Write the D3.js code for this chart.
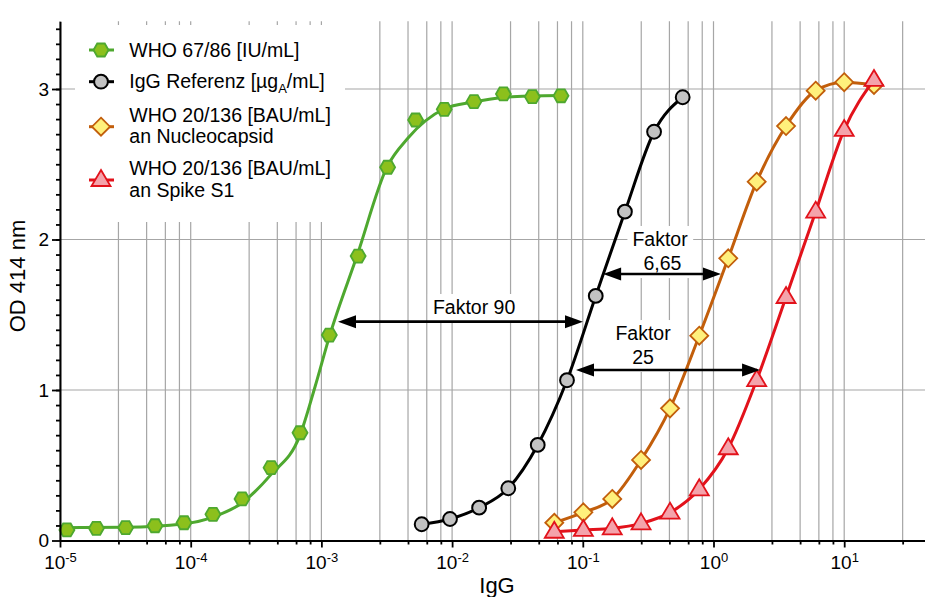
<!DOCTYPE html>
<html>
<head>
<meta charset="utf-8">
<script src="https://cdn.jsdelivr.net/npm/d3@7"></script>
<style>
  body { margin: 0; background: #fff; }
  text { font-family: "Liberation Sans", Arial, sans-serif; fill: #000; }
</style>
</head>
<body>
<div id="chart"></div>
<script>
// WHO 67/86 [IU/mL]
const whoX = [1.13e-5, 1.90e-5, 3.18e-5, 5.33e-5, 8.89e-5, 1.48e-4, 2.47e-4, 4.12e-4, 6.86e-4,
  1.15e-3, 1.91e-3, 3.21e-3, 5.26e-3, 8.71e-3, 1.47e-2, 2.47e-2, 4.11e-2, 6.81e-2];
const whoY = [0.070, 0.081, 0.085, 0.098, 0.118, 0.174, 0.276, 0.484, 0.716,
  1.365, 1.89, 2.48, 2.794, 2.865, 2.916, 2.967, 2.949, 2.955];
// fitted curve of WHO 67/86
const whoFitX = [1e-5, 3.14e-5, 8.73e-5, 1.46e-4, 2.45e-4, 4.09e-4, 6.86e-4, 8.93e-4, 1.16e-3,
  1.87e-3, 3.18e-3, 4.6e-3, 8.67e-3, 1.47e-2, 2.45e-2, 4.08e-2, 6.81e-2];
const whoFitY = [0.085, 0.088, 0.110, 0.154, 0.248, 0.436, 0.70, 1.02, 1.365,
  1.89, 2.482, 2.674, 2.867, 2.914, 2.944, 2.954, 2.957];

// IgG Referenz
const refX = [5.85e-3, 9.64e-3, 1.61e-2, 2.69e-2, 4.52e-2, 7.57e-2, 0.1256, 0.210, 0.351, 0.581];
const refY = [0.108, 0.143, 0.218, 0.347, 0.635, 1.065, 1.625, 2.185, 2.716, 2.945];

// WHO 20/136 (same dilution series for both antigens)
const bauX = [0.0605, 0.101, 0.168, 0.279, 0.465, 0.778, 1.297, 2.14, 3.59, 6.05, 10.0, 16.9];
const ncY = [0.118, 0.187, 0.276, 0.535, 0.878, 1.361, 1.875, 2.384, 2.754, 2.989, 3.045, 3.027];
const s1Y = [0.058, 0.070, 0.081, 0.114, 0.185, 0.340, 0.613, 1.066, 1.618, 2.185, 2.728, 3.06];

const majorExp = [-5, -4, -3, -2, -1, 0, 1];
const yMajor = [0, 1, 2, 3];

// factor arrows in data units
const arrows = [
  { x1: 1.34e-3, x2: 0.1003, y: 1.454 },
  { x1: 0.143, x2: 1.14, y: 1.771 },
  { x1: 0.0887, x2: 2.27, y: 1.133 }
];
const notes = [
  [{ t: "Faktor 90", x: 0.01473, y: 1.505 }],
  [{ t: "Faktor", x: 0.390, y: 1.957 }, { t: "6,65", x: 0.407, y: 1.797 }],
  [{ t: "Faktor", x: 0.289, y: 1.332 }, { t: "25", x: 0.289, y: 1.173 }]
];

const width = 925, height = 597;
const left = 60, right = 925, bottom = 540.5;
const decade = 130.7;

const x = d3.scaleLog()
  .domain([1e-5, Math.pow(10, -5 + (right - left) / decade)])
  .range([left, right]);
const y = d3.scaleLinear().domain([0, 3.45]).range([bottom, bottom - 3.45 * 150.5]);

const svg = d3.select("#chart").append("svg")
  .attr("width", width)
  .attr("height", height);

// minor ticks: decade split linearly into five
const xMinor = [];
majorExp.forEach((e) => {
  for (let k = 1; k <= 4; k++) {
    const v = Math.pow(10, e) * (1 + 1.8 * k);
    if (v < x.domain()[1]) xMinor.push(v);
  }
});
const xMajor = majorExp.map((e) => Math.pow(10, e));

// grid
const grid = svg.append("g").attr("stroke", "#a6a6a6").attr("stroke-width", 1.2);
grid.selectAll(".vx")
  .data(xMajor.concat(xMinor))
  .enter().append("line")
  .attr("x1", (d) => x(d)).attr("x2", (d) => x(d))
  .attr("y1", y(0)).attr("y2", y(3.45));
grid.selectAll(".hy")
  .data(yMajor.slice(1))
  .enter().append("line")
  .attr("x1", left).attr("x2", right)
  .attr("y1", (d) => y(d)).attr("y2", (d) => y(d));

// white legend background
svg.append("rect")
  .attr("x", 75).attr("y", 25).attr("width", 270).attr("height", 197)
  .attr("fill", "#fff");

// note text with white boxes
const noteG = svg.append("g");
notes.forEach((lines) => {
  const g = noteG.append("g");
  const box = g.append("rect").attr("fill", "#fff");
  lines.forEach((l) => {
    g.append("text")
      .attr("x", x(l.x)).attr("y", y(l.y))
      .attr("text-anchor", "middle")
      .style("font-size", "19.5px")
      .text(l.t);
  });
  const bb = g.node().getBBox();
  box.attr("x", bb.x - 5).attr("y", bb.y - 2)
    .attr("width", bb.width + 10).attr("height", bb.height + 6);
});

// marker shapes
const hexPath = (r) => d3.range(6).map((i) => {
  const a = (Math.PI / 3) * i;
  return [r * Math.cos(a), r * Math.sin(a)];
});
const shapes = {
  hex: "M" + hexPath(7.5).join("L") + "Z",
  circle: d3.symbol(d3.symbolCircle, 150)(),
  diamond: "M0,-9L9,0L0,9L-9,0Z",
  tri: "M0,-10L9.5,6L-9.5,6Z"
};

const series = [
  { name: "who", xs: whoX, ys: whoY, fx: whoFitX, fy: whoFitY, line: "#4ea82f", fill: "#8cc01c", stroke: "#4ea82f", shape: "hex", sw: 1.8 },
  { name: "ref", xs: refX, ys: refY, line: "#000", fill: "#c2c2c2", stroke: "#000", shape: "circle", sw: 2 },
  { name: "nc", xs: bauX, ys: ncY, line: "#c25e0b", fill: "#fff07c", stroke: "#c25e0b", shape: "diamond", sw: 1.8 },
  { name: "s1", xs: bauX, ys: s1Y, line: "#e2121b", fill: "#f4a3ab", stroke: "#e2121b", shape: "tri", sw: 1.8 }
];

const line = d3.line()
  .x((d) => x(d[0]))
  .y((d) => y(d[1]))
  .curve(d3.curveMonotoneX);

series.forEach((s) => {
  const g = svg.append("g");
  const lx = s.fx || s.xs, ly = s.fy || s.ys;
  g.append("path")
    .attr("d", line(lx.map((v, i) => [v, ly[i]])))
    .attr("fill", "none")
    .attr("stroke", s.line)
    .attr("stroke-width", 3);
  g.selectAll("path.m")
    .data(s.xs.map((v, i) => [v, s.ys[i]]))
    .enter().append("path")
    .attr("class", "m")
    .attr("d", shapes[s.shape])
    .attr("transform", (d) => `translate(${x(d[0])},${y(d[1])})`)
    .attr("fill", s.fill)
    .attr("stroke", s.stroke)
    .attr("stroke-width", s.sw);
});

// arrows
const arrowG = svg.append("g");
arrows.forEach((a) => {
  const x1 = x(a.x1), x2 = x(a.x2), yy = y(a.y);
  arrowG.append("line")
    .attr("x1", x1 + 12).attr("x2", x2 - 12)
    .attr("y1", yy).attr("y2", yy)
    .attr("stroke", "#000").attr("stroke-width", 2.6);
  arrowG.append("path")
    .attr("d", `M${x1},${yy}L${x1 + 18},${yy - 6.5}L${x1 + 18},${yy + 6.5}Z`);
  arrowG.append("path")
    .attr("d", `M${x2},${yy}L${x2 - 18},${yy - 6.5}L${x2 - 18},${yy + 6.5}Z`);
});

// axes
const xAxisG = svg.append("g").attr("transform", `translate(0,${bottom})`);
xAxisG.append("g")
  .call(d3.axisBottom(x).tickValues(xMinor).tickSize(4).tickSizeOuter(0).tickFormat(() => ""))
  .call((g) => g.select(".domain").remove());
const xMaj = xAxisG.append("g")
  .call(d3.axisBottom(x).tickValues(xMajor).tickSize(7).tickSizeOuter(0).tickFormat(() => ""));
xMaj.select(".domain").attr("stroke-width", 2);
xAxisG.selectAll(".tick line").attr("stroke-width", 1.8);
xMaj.selectAll(".tick").each(function (d) {
  const t = d3.select(this).append("text")
    .attr("y", 28.5)
    .attr("text-anchor", "middle")
    .style("font-size", "19px");
  t.append("tspan").text("10");
  t.append("tspan").attr("dy", -7).style("font-size", "13px").text(Math.round(Math.log10(d)));
});

const yAxisG = svg.append("g").attr("transform", `translate(${left},0)`);
yAxisG.append("g")
  .call(d3.axisLeft(y).tickValues(d3.range(1, 35).map((i) => i / 10)).tickSize(4).tickSizeOuter(0).tickFormat(() => ""))
  .call((g) => g.select(".domain").remove());
const yMaj = yAxisG.append("g")
  .call(d3.axisLeft(y).tickValues(yMajor).tickSize(8).tickSizeOuter(0).tickPadding(3).tickFormat(d3.format("d")));
yMaj.select(".domain").attr("stroke-width", 2);
yAxisG.selectAll(".tick line").attr("stroke-width", 1.8);
yMaj.selectAll(".tick text")
  .style("font-size", "19px")
  .style("font-family", "'Liberation Sans', Arial, sans-serif");

svg.append("text")
  .attr("x", 497).attr("y", 593)
  .attr("text-anchor", "middle")
  .style("font-size", "22px")
  .text("IgG");
svg.append("text")
  .attr("transform", "translate(25,276) rotate(-90)")
  .attr("text-anchor", "middle")
  .style("font-size", "22px")
  .text("OD 414 nm");

// legend
const legend = [
  { s: 0, my: 50, lines: [{ t: "WHO 67/86 [IU/mL]", y: 56.7 }] },
  { s: 1, my: 81.7, lines: [{ t: "ref", y: 88.3 }] },
  { s: 2, my: 126.7, lines: [{ t: "WHO 20/136 [BAU/mL]", y: 122.3 }, { t: "an Nucleocapsid", y: 143.3 }] },
  { s: 3, my: 180, lines: [{ t: "WHO 20/136 [BAU/mL]", y: 175 }, { t: "an Spike S1", y: 196.7 }] }
];
const lg = svg.append("g");
legend.forEach((e) => {
  const s = series[e.s];
  lg.append("line")
    .attr("x1", 89).attr("x2", 114).attr("y1", e.my).attr("y2", e.my)
    .attr("stroke", s.line).attr("stroke-width", 3);
  lg.append("path")
    .attr("d", shapes[s.shape])
    .attr("transform", `translate(101,${e.my})`)
    .attr("fill", s.fill).attr("stroke", s.stroke).attr("stroke-width", s.sw);
  e.lines.forEach((l) => {
    const t = lg.append("text").attr("x", 129.3).attr("y", l.y).style("font-size", "19.5px");
    if (l.t === "ref") {
      t.append("tspan").text("IgG Referenz [µg");
      t.append("tspan").attr("dy", 5).style("font-size", "13px").text("A");
      t.append("tspan").attr("dy", -5).text("/mL]");
    } else {
      t.text(l.t);
    }
  });
});
</script>
</body>
</html>
